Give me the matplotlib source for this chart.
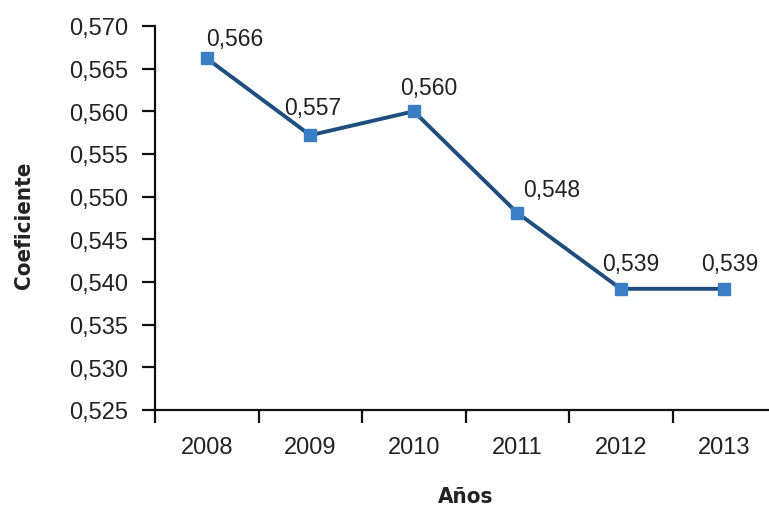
import matplotlib
matplotlib.use('Agg')
import matplotlib.pyplot as plt
from matplotlib.ticker import FixedLocator, FuncFormatter

# data
years = ['2008', '2009', '2010', '2011', '2012', '2013']
coef = [0.5662, 0.5572, 0.5600, 0.5481, 0.5392, 0.5392]
y_ticks = [0.525, 0.530, 0.535, 0.540, 0.545, 0.550, 0.555, 0.560, 0.565, 0.570]

# label offsets (points) for the value annotations
label_dx = [20, 2, 11, 25, 7, 4]
label_dy = [14, 20, 17, 17, 18, 18]

plt.rcParams['font.family'] = ['Liberation Sans', 'DejaVu Sans']
text_color = '#222222'

fig = plt.figure(figsize=(7.69, 5.10), dpi=100)
ax = fig.add_axes([155 / 769, 99 / 510, 621 / 769, 384 / 510])

x = list(range(len(years)))
ax.plot(x, coef, color='#1d4e7e', linewidth=2.8, zorder=2)
ax.plot(x, coef, linestyle='none', marker='s', markersize=9,
        markerfacecolor='#3a7fc6', markeredgecolor='#3a7fc6', zorder=3)

for xi, val, dx, dy in zip(x, coef, label_dx, label_dy):
    ax.annotate(f'{val:.3f}'.replace('.', ','), (xi, val),
                xytext=(dx, dy), textcoords='offset points',
                ha='center', va='center', fontsize=16.5, color=text_color)

ax.set_xlim(-0.5, len(years) - 0.5)
ax.set_ylim(0.525, 0.570)

ax.set_xticks(x)
ax.set_xticklabels(years)
ax.xaxis.set_minor_locator(FixedLocator([i - 0.5 for i in range(len(years) + 1)]))
ax.tick_params(axis='x', which='major', length=0, pad=19, labelsize=17, labelcolor=text_color)
ax.tick_params(axis='x', which='minor', length=9, width=1.6, color='#111111')

ax.set_yticks(y_ticks)
ax.yaxis.set_major_formatter(FuncFormatter(lambda v, p: f'{v:.3f}'.replace('.', ',')))
ax.tick_params(axis='y', length=9.5, width=1.6, color='#111111', pad=10,
               labelsize=17, labelcolor=text_color)

for side in ['top', 'right']:
    ax.spines[side].set_visible(False)
for side in ['left', 'bottom']:
    ax.spines[side].set_linewidth(1.6)
    ax.spines[side].set_color('#111111')

label_font = dict(family=['DejaVu Sans'], fontstretch='condensed', fontweight='bold',
                  fontsize=16, color=text_color, va='center', ha='center')
ax.set_ylabel('Coeficiente', **label_font)
ax.set_xlabel('Años', **label_font)
ax.yaxis.set_label_coords(-0.211, 0.484)
ax.xaxis.set_label_coords(0.5, -0.224)

fig.savefig('out.png', dpi=100)
